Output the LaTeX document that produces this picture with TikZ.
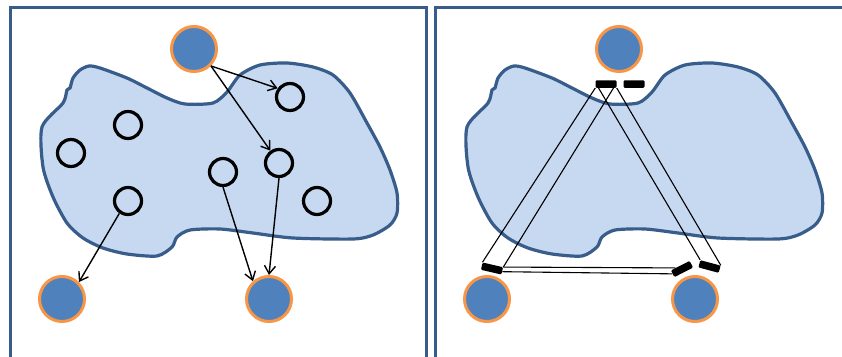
\documentclass[tikz,border=0pt]{standalone}
\usetikzlibrary{arrows.meta,calc}
\definecolor{frameblue}{HTML}{385D8A}
\definecolor{blobfill}{HTML}{C6D9F1}
\definecolor{circblue}{HTML}{4F81BD}
\definecolor{circorange}{HTML}{F79646}
\tikzset{
  panel/.style={draw=frameblue, line width=3pt},
  blob/.style={draw=frameblue, fill=blobfill, line width=3.2pt},
  bigc/.style={circle, fill=circblue, draw=circorange, line width=3pt, minimum size=45pt, inner sep=0pt},
  smallc/.style={circle, draw=black, line width=3.2pt, minimum size=27pt, inner sep=0pt},
  arr/.style={line width=1.4pt, -{Straight Barb[length=8pt,width=11pt,line width=1.4pt]}},
  sensor/.style={rectangle, fill=black, minimum width=21pt, minimum height=7.5pt, inner sep=0pt, rounded corners=1.2pt},
  ray/.style={line width=1.1pt, black}
}
\begin{document}
\begin{tikzpicture}[x=1pt,y=-1pt]
\clip (0,0) rectangle (842,356);
\fill[white] (0,0) rectangle (842,356);
% panels
\draw[panel] (10,7.5) rectangle (426,370);
\draw[panel] (435.5,7.5) rectangle (860,370);
% blobs
\foreach \dx in {0,425}{
\begin{scope}[shift={(\dx,0)}]
\draw[blob] plot[smooth cycle, tension=0.45] coordinates {
(80,70) (89,66) (100,68) (127,78) (147,88) (167,98) (185,104) (213,103)
(227,92) (240,75) (260,65) (287,63) (313,67) (333,75) (350,93) (367,123)
(380,147) (390,170) (397,193) (397,213) (390,225) (373,235) (353,239)
(293,238) (253,233) (220,229) (190,230) (177,237) (172,247) (157,256)
(127,254) (103,248) (83,238) (67,223) (53,197) (43,167) (42,127) (63,103)
(67,90) (70,88) (73,78)};
\end{scope}
}
% left panel nodes
\node[bigc] (lt) at (194,49) {};
\node[bigc] (lbl) at (62,299) {};
\node[bigc] (lbr) at (269,299) {};
\node[smallc] (c1) at (290,97) {};
\node[smallc] (c2) at (128,125) {};
\node[smallc] (c3) at (71,153) {};
\node[smallc] (c4) at (128,201) {};
\node[smallc] (c5) at (223,172) {};
\node[smallc] (c6) at (279,163) {};
\node[smallc] (c7) at (317,201) {};
% arrows
\draw[arr] (lt.-45) -- (c1.145);
\draw[arr] (lt.-45) -- (c6.125);
\draw[arr] (c4.-125) -- (lbl.45);
\draw[arr] (c5.south) -- (lbr.132);
\draw[arr] (c6.south) -- (lbr.north);
% right panel nodes
\node[bigc] (rt) at (619,49) {};
\node[bigc] (rbl) at (487,299) {};
\node[bigc] (rbr) at (695,299) {};
\node[sensor] (tb1) at (606,84) {};
\node[sensor] (tb2) at (634,84) {};
\node[sensor, rotate=-13] (bb) at (492,268.5) {};
\node[sensor, rotate=27] (b1) at (682,269) {};
\node[sensor, rotate=-15] (b2) at (709.5,266.5) {};
% rays
\draw[ray] (tb1.south west) -- (bb.north west);
\draw[ray] ($(tb1.south west)!0.85!(tb1.south east)$) -- (bb.north east);
\draw[ray] ($(tb1.south west)!0.15!(tb1.south east)$) -- (b2.north west);
\draw[ray] (tb1.south east) -- (b2.north east);
\draw[ray] (bb.north east) -- ($(b1.north west)!0.5!(b1.north)$);
\draw[ray] ($(bb.north east)!0.6!(bb.south east)$) -- (b1.west);
\end{tikzpicture}
\end{document}
